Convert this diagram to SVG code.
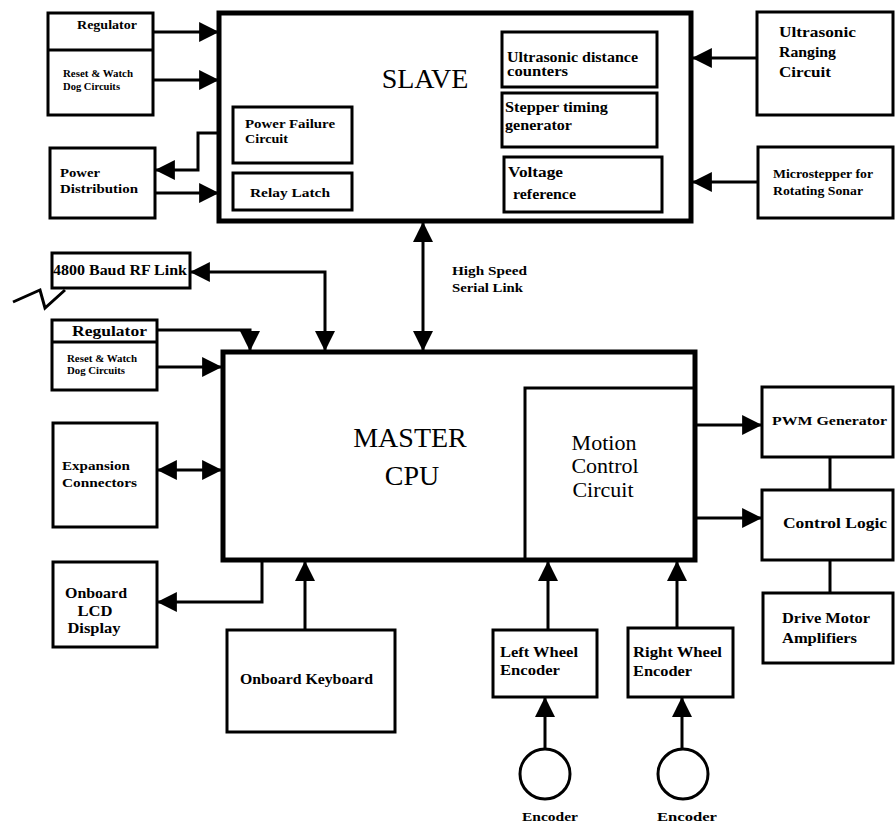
<svg xmlns="http://www.w3.org/2000/svg" width="895" height="826" viewBox="0 0 895 826">
<defs>
<marker id="ah" markerUnits="userSpaceOnUse" markerWidth="20" markerHeight="20" viewBox="0 0 18 18" refX="17" refY="9" orient="auto-start-reverse">
<path d="M0,0 L18,9 L0,18 z" fill="#000"/>
</marker>
<style>
.b{fill:#fff;stroke:#000;stroke-width:3}
.bn{fill:none;stroke:#000;stroke-width:3}
.bb{fill:#fff;stroke:#000;stroke-width:5}
.c{fill:none;stroke:#000;stroke-width:3}
.t{font-family:"Liberation Serif","Times New Roman",serif;font-weight:bold;fill:#000}
.L{font-family:"Liberation Serif","Times New Roman",serif;fill:#000}
</style>
</defs>
<rect width="895" height="826" fill="#fff"/>

<g id="slave">
<rect class="bb" x="219" y="13" width="472" height="208"/>
<text class="L" x="425" y="88" font-size="28" text-anchor="middle">SLAVE</text>
</g>
<g id="power-failure">
<rect class="b" x="233" y="107" width="119" height="56"/>
<text class="t" x="245" y="128" font-size="13" textLength="90" lengthAdjust="spacingAndGlyphs">Power Failure</text>
<text class="t" x="245" y="143" font-size="13" textLength="43" lengthAdjust="spacingAndGlyphs">Circuit</text>
</g>
<g id="relay-latch">
<rect class="b" x="233" y="173" width="119" height="37"/>
<text class="t" x="250" y="197" font-size="13" textLength="80" lengthAdjust="spacingAndGlyphs">Relay Latch</text>
</g>
<g id="ultrasonic-counters">
<rect class="b" x="502" y="32" width="155" height="55"/>
<text class="t" x="507" y="62" font-size="14" textLength="131" lengthAdjust="spacingAndGlyphs">Ultrasonic distance</text>
<text class="t" x="507" y="76" font-size="14" textLength="61" lengthAdjust="spacingAndGlyphs">counters</text>
</g>
<g id="stepper-timing">
<rect class="b" x="502" y="93" width="155" height="54"/>
<text class="t" x="505" y="112" font-size="14" textLength="103" lengthAdjust="spacingAndGlyphs">Stepper timing</text>
<text class="t" x="505" y="130" font-size="14" textLength="67" lengthAdjust="spacingAndGlyphs">generator</text>
</g>
<g id="voltage-reference">
<rect class="b" x="504" y="157" width="158" height="55"/>
<text class="t" x="508" y="177" font-size="14" textLength="55" lengthAdjust="spacingAndGlyphs">Voltage</text>
<text class="t" x="513" y="199" font-size="14" textLength="63" lengthAdjust="spacingAndGlyphs">reference</text>
</g>

<g id="regulator-reset-top">
<rect class="b" x="48" y="13" width="105" height="102"/>
<line class="c" x1="48" y1="50" x2="153" y2="50"/>
<text class="t" x="77" y="29" font-size="12" textLength="60" lengthAdjust="spacingAndGlyphs">Regulator</text>
<text class="t" x="63" y="77" font-size="10" textLength="70" lengthAdjust="spacingAndGlyphs">Reset &amp; Watch</text>
<text class="t" x="63" y="90" font-size="10" textLength="57" lengthAdjust="spacingAndGlyphs">Dog Circuits</text>
</g>
<g id="power-distribution">
<rect class="b" x="50" y="148" width="105" height="70"/>
<text class="t" x="60" y="177" font-size="13" textLength="40" lengthAdjust="spacingAndGlyphs">Power</text>
<text class="t" x="60" y="193" font-size="13" textLength="78" lengthAdjust="spacingAndGlyphs">Distribution</text>
</g>
<g id="ultrasonic-ranging">
<rect class="b" x="757" y="12" width="136" height="103"/>
<text class="t" x="779" y="37" font-size="14" textLength="77" lengthAdjust="spacingAndGlyphs">Ultrasonic</text>
<text class="t" x="779" y="57" font-size="14" textLength="57" lengthAdjust="spacingAndGlyphs">Ranging</text>
<text class="t" x="779" y="77" font-size="14" textLength="52" lengthAdjust="spacingAndGlyphs">Circuit</text>
</g>
<g id="microstepper">
<rect class="b" x="758" y="147" width="135" height="71"/>
<text class="t" x="773" y="178" font-size="12" textLength="100" lengthAdjust="spacingAndGlyphs">Microstepper for</text>
<text class="t" x="773" y="195" font-size="12" textLength="90" lengthAdjust="spacingAndGlyphs">Rotating Sonar</text>
</g>
<g id="rf-link">
<rect class="b" x="52" y="253" width="138" height="35"/>
<text class="t" x="53" y="275" font-size="14" textLength="134" lengthAdjust="spacingAndGlyphs">4800 Baud RF Link</text>
<path class="c" d="M13,302 L40,290 L45,308 L65,290" stroke-width="2"/>
</g>
<g id="serial-label">
<text class="t" x="452" y="275" font-size="12" textLength="75" lengthAdjust="spacingAndGlyphs">High Speed</text>
<text class="t" x="452" y="292" font-size="12" textLength="71" lengthAdjust="spacingAndGlyphs">Serial Link</text>
</g>
<g id="regulator-reset-bottom">
<rect class="b" x="52" y="320" width="105" height="70"/>
<line class="c" x1="52" y1="342" x2="157" y2="342"/>
<text class="t" x="72" y="336" font-size="14" textLength="75" lengthAdjust="spacingAndGlyphs">Regulator</text>
<text class="t" x="67" y="362" font-size="10" textLength="70" lengthAdjust="spacingAndGlyphs">Reset &amp; Watch</text>
<text class="t" x="67" y="374" font-size="10" textLength="58" lengthAdjust="spacingAndGlyphs">Dog Circuits</text>
</g>
<g id="expansion">
<rect class="b" x="53" y="423" width="104" height="104"/>
<text class="t" x="62" y="470" font-size="13" textLength="68" lengthAdjust="spacingAndGlyphs">Expansion</text>
<text class="t" x="62" y="487" font-size="13" textLength="75" lengthAdjust="spacingAndGlyphs">Connectors</text>
</g>
<g id="lcd">
<rect class="b" x="53" y="562" width="104" height="85"/>
<text class="t" x="96" y="598" font-size="15" text-anchor="middle" textLength="62" lengthAdjust="spacingAndGlyphs">Onboard</text>
<text class="t" x="95" y="616" font-size="15" text-anchor="middle" textLength="35" lengthAdjust="spacingAndGlyphs">LCD</text>
<text class="t" x="94" y="633" font-size="15" text-anchor="middle" textLength="53" lengthAdjust="spacingAndGlyphs">Display</text>
</g>
<g id="master">
<rect class="bb" x="223" y="352" width="472" height="208"/>
<text class="L" x="410" y="447" font-size="28" text-anchor="middle">MASTER</text>
<text class="L" x="412" y="485" font-size="28" text-anchor="middle">CPU</text>
</g>
<g id="motion-control">
<rect class="bn" x="525" y="388" width="170" height="172"/>
<text class="L" x="604" y="450" font-size="22" text-anchor="middle">Motion</text>
<text class="L" x="605" y="473" font-size="22" text-anchor="middle">Control</text>
<text class="L" x="603" y="497" font-size="22" text-anchor="middle">Circuit</text>
</g>
<g id="pwm">
<rect class="b" x="762" y="387" width="131" height="70"/>
<text class="t" x="772" y="425" font-size="13" textLength="115" lengthAdjust="spacingAndGlyphs">PWM Generator</text>
</g>
<g id="control-logic">
<rect class="b" x="762" y="490" width="131" height="70"/>
<text class="t" x="783" y="528" font-size="15" textLength="104" lengthAdjust="spacingAndGlyphs">Control Logic</text>
</g>
<g id="drive-motor">
<rect class="b" x="763" y="593" width="130" height="70"/>
<text class="t" x="782" y="623" font-size="14" textLength="88" lengthAdjust="spacingAndGlyphs">Drive Motor</text>
<text class="t" x="782" y="643" font-size="14" textLength="75" lengthAdjust="spacingAndGlyphs">Amplifiers</text>
</g>
<g id="keyboard">
<rect class="b" x="227" y="630" width="168" height="102"/>
<text class="t" x="240" y="684" font-size="14" textLength="133" lengthAdjust="spacingAndGlyphs">Onboard Keyboard</text>
</g>
<g id="left-wheel">
<rect class="b" x="493" y="630" width="104" height="67"/>
<text class="t" x="500" y="657" font-size="14" textLength="78" lengthAdjust="spacingAndGlyphs">Left Wheel</text>
<text class="t" x="500" y="675" font-size="14" textLength="60" lengthAdjust="spacingAndGlyphs">Encoder</text>
</g>
<g id="right-wheel">
<rect class="b" x="628" y="628" width="105" height="69"/>
<text class="t" x="633" y="657" font-size="14" textLength="89" lengthAdjust="spacingAndGlyphs">Right Wheel</text>
<text class="t" x="633" y="676" font-size="14" textLength="59" lengthAdjust="spacingAndGlyphs">Encoder</text>
</g>
<g id="encoder-left">
<circle class="b" cx="545" cy="774" r="25"/>
<text class="t" x="550" y="821" font-size="13" text-anchor="middle" textLength="56" lengthAdjust="spacingAndGlyphs">Encoder</text>
</g>
<g id="encoder-right">
<circle class="b" cx="683" cy="774" r="25"/>
<text class="t" x="687" y="821" font-size="13" text-anchor="middle" textLength="60" lengthAdjust="spacingAndGlyphs">Encoder</text>
</g>

<g id="connectors">
<path class="c" d="M153,32 H218" marker-end="url(#ah)"/>
<path class="c" d="M153,80 H218" marker-end="url(#ah)"/>
<path class="c" d="M218,133 H198 V170 H156" marker-end="url(#ah)"/>
<path class="c" d="M155,193 H218" marker-end="url(#ah)"/>
<path class="c" d="M757,58 H693" marker-end="url(#ah)"/>
<path class="c" d="M758,182 H693" marker-end="url(#ah)"/>
<path class="c" d="M423,350 V223" marker-start="url(#ah)" marker-end="url(#ah)"/>
<path class="c" d="M325,350 V272 H191" marker-start="url(#ah)" marker-end="url(#ah)"/>
<path class="c" d="M157,330 H250 V350" marker-end="url(#ah)"/>
<path class="c" d="M157,367 H221" marker-end="url(#ah)"/>
<path class="c" d="M158,470 H221" marker-start="url(#ah)" marker-end="url(#ah)"/>
<path class="c" d="M262,562 V602 H158" marker-end="url(#ah)"/>
<path class="c" d="M305,630 V562" marker-end="url(#ah)"/>
<path class="c" d="M548,630 V562" marker-end="url(#ah)"/>
<path class="c" d="M677,628 V562" marker-end="url(#ah)"/>
<path class="c" d="M545,749 V698" marker-end="url(#ah)"/>
<path class="c" d="M682,749 V698" marker-end="url(#ah)"/>
<path class="c" d="M697,425 H761" marker-end="url(#ah)"/>
<path class="c" d="M697,518 H761" marker-end="url(#ah)"/>
<path class="c" d="M830,457 V490"/>
<path class="c" d="M830,560 V593"/>
</g>
</svg>
